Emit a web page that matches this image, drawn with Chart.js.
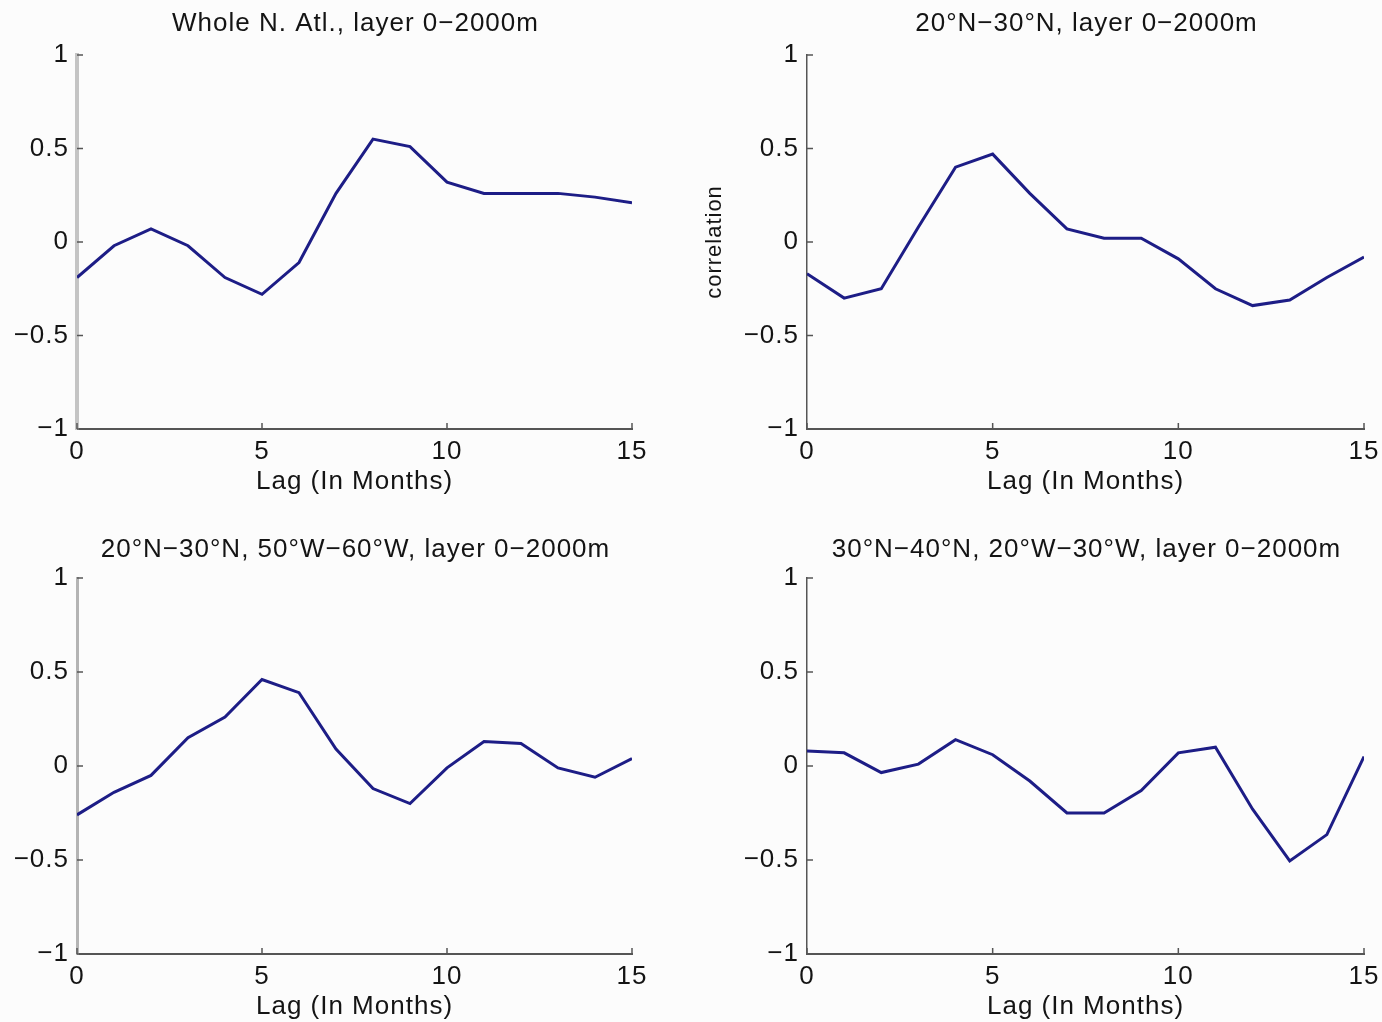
<!DOCTYPE html>
<html>
<head>
<meta charset="utf-8">
<script src="https://cdn.jsdelivr.net/npm/chart.js@4.4.1/dist/chart.umd.min.js"></script>
<style>
html, body { margin: 0; padding: 0; background: #fcfcfc; }
#wrap { position: relative; width: 1382px; height: 1022px; }
#wrap canvas { position: absolute; }
</style>
</head>
<body>
<div id="wrap">
  <canvas id="c1" width="691" height="511" style="left:0;top:0"></canvas>
  <canvas id="c2" width="691" height="511" style="left:691px;top:0"></canvas>
  <canvas id="c3" width="691" height="511" style="left:0;top:511px"></canvas>
  <canvas id="c4" width="691" height="511" style="left:691px;top:511px"></canvas>
</div>
<script>
// lag in months
const lags = [0, 1, 2, 3, 4, 5, 6, 7, 8, 9, 10, 11, 12, 13, 14, 15]
const xTicks = [0, 5, 10, 15]
const yTicks = [-1, -0.5, 0, 0.5, 1]

// correlation per lag
const wholeAtl   = [-0.19, -0.02, 0.07, -0.02, -0.19, -0.28, -0.11, 0.26, 0.55, 0.51, 0.32, 0.26, 0.26, 0.26, 0.24, 0.21]
const lat20to30  = [-0.17, -0.30, -0.25, 0.08, 0.40, 0.47, 0.26, 0.07, 0.02, 0.02, -0.09, -0.25, -0.34, -0.31, -0.19, -0.08]
const box50to60W = [-0.26, -0.14, -0.05, 0.15, 0.26, 0.46, 0.39, 0.09, -0.12, -0.20, -0.01, 0.13, 0.12, -0.01, -0.06, 0.04]
const box20to30W = [0.08, 0.07, -0.035, 0.01, 0.14, 0.06, -0.08, -0.25, -0.25, -0.13, 0.07, 0.10, -0.23, -0.505, -0.365, 0.05]

const titles = [
    'Whole N. Atl., layer 0\u22122000m',
    '20\u00b0N\u221230\u00b0N, layer 0\u22122000m',
    '20\u00b0N\u221230\u00b0N, 50\u00b0W\u221260\u00b0W, layer 0\u22122000m',
    '30\u00b0N\u221240\u00b0N, 20\u00b0W\u221230\u00b0W, layer 0\u22122000m'
]

const FONT = '"Liberation Sans", Arial, Helvetica, sans-serif'
Chart.defaults.font.family = FONT
Chart.defaults.font.size = 26
Chart.defaults.color = '#141414'

function fmt(v) {
    return v < 0 ? '\u2212' + Math.abs(v) : String(v)
}

// a bit wider spacing like the original bitmap text
const spacing = {
    id: 'spacing',
    beforeDraw(chart) {
        chart.ctx.letterSpacing = '1px'
    }
}

// matlab style ticks pointing into the axes
const inwardTicks = {
    id: 'inwardTicks',
    afterDraw(chart) {
        const {ctx, chartArea: a, scales: {x, y}} = chart
        ctx.save()
        ctx.strokeStyle = '#555'
        ctx.lineWidth = 1.5
        ctx.beginPath()
        y.ticks.forEach(t => {
            const py = y.getPixelForValue(t.value)
            ctx.moveTo(a.left, py)
            ctx.lineTo(a.left + 6, py)
        })
        x.ticks.forEach(t => {
            const px = x.getPixelForValue(t.value)
            ctx.moveTo(px, a.bottom)
            ctx.lineTo(px, a.bottom - 6)
        })
        ctx.stroke()
        ctx.restore()
    }
}

const panelTitle = {
    id: 'panelTitle',
    afterDraw(chart, args, opts) {
        const {ctx, chartArea: a} = chart
        ctx.save()
        ctx.letterSpacing = '1px'
        ctx.font = '26px ' + FONT
        ctx.fillStyle = '#141414'
        ctx.textAlign = 'center'
        ctx.textBaseline = 'middle'
        ctx.fillText(opts.text, (a.left + a.right) / 2 + 1, opts.y)
        ctx.restore()
    }
}

const panels = [
    {id: 'c1', values: wholeAtl,   title: titles[0], left: 77,  right: 632, top: 55, bottom: 429, titleY: 24, xPad: 14, yColor: '#c4c4c4', yWidth: 4},
    {id: 'c2', values: lat20to30,  title: titles[1], left: 116, right: 673, top: 55, bottom: 429, titleY: 24, xPad: 14, yColor: '#555', yWidth: 1.5, yLabel: 'correlation'},
    {id: 'c3', values: box50to60W, title: titles[2], left: 77,  right: 632, top: 67, bottom: 443, titleY: 39, xPad: 0,  yColor: '#b4b4b4', yWidth: 3},
    {id: 'c4', values: box20to30W, title: titles[3], left: 116, right: 673, top: 67, bottom: 443, titleY: 39, xPad: 0,  yColor: '#555', yWidth: 1.5}
]

panels.forEach(p => {
    const ctx = document.getElementById(p.id).getContext('2d')
    new Chart(ctx, {
        type: 'line',
        data: {
            datasets: [{
                data: lags.map((l, i) => ({x: l, y: p.values[i]})),
                borderColor: '#1d1d86',
                borderWidth: 3,
                pointRadius: 0,
                tension: 0,
                fill: false
            }]
        },
        options: {
            responsive: false,
            animation: false,
            layout: {padding: {left: 0, top: p.top, right: 691 - p.right, bottom: 0}},
            plugins: {
                legend: {display: false},
                tooltip: {enabled: false},
                panelTitle: {text: p.title, y: p.titleY}
            },
            scales: {
                x: {
                    type: 'linear',
                    min: 0,
                    max: 15,
                    afterBuildTicks: s => { s.ticks = xTicks.map(v => ({value: v})) },
                    afterFit: s => {
                        s.height = 511 - p.bottom
                        s.paddingLeft = 0
                        s.paddingRight = 0
                    },
                    grid: {display: false, drawTicks: false},
                    border: {display: true, color: '#555', width: 2},
                    ticks: {padding: 7, maxRotation: 0, callback: v => fmt(v)},
                    title: {display: true, text: 'Lag (In Months)', padding: {top: 0, bottom: p.xPad}}
                },
                y: {
                    min: -1,
                    max: 1,
                    afterBuildTicks: s => { s.ticks = yTicks.map(v => ({value: v})) },
                    afterFit: s => {
                        s.width = p.left
                        s.paddingTop = 0
                        s.paddingBottom = 0
                    },
                    grid: {display: false, drawTicks: false},
                    border: {display: true, color: p.yColor, width: p.yWidth},
                    ticks: {padding: 8, callback: v => fmt(v)},
                    title: {display: !!p.yLabel, text: p.yLabel || '', font: {size: 22}, padding: {top: 11, bottom: 0}}
                }
            }
        },
        plugins: [spacing, inwardTicks, panelTitle]
    })
})
</script>
</body>
</html>
